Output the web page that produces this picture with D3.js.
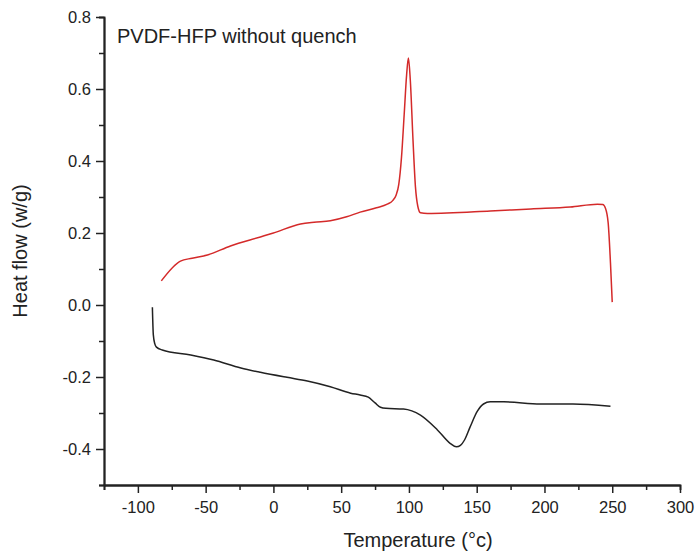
<!DOCTYPE html>
<html>
<head>
<meta charset="utf-8">
<script src="https://cdn.jsdelivr.net/npm/d3@7"></script>
<style>
	body { margin: 0; background: #fff; }
	svg text { font-family: 'Liberation Sans', Arial, sans-serif; fill: #222; }
</style>
</head>
<body>
<div id="chart"></div>
<script>
// cooling (red) and heating (black) DSC traces, [temperature, heat flow]
var redTrace = [
	[-82.7, 0.067], [-68.6, 0.122], [-60, 0.130], [-48.7, 0.139], [-31.7, 0.164],
	[-9.6, 0.189], [0, 0.2], [20, 0.225], [30, 0.230], [42, 0.234], [54, 0.245],
	[64, 0.258], [76, 0.270], [84, 0.280], [88, 0.290], [90.5, 0.305], [92.5, 0.335],
	[94.5, 0.41], [96.5, 0.53], [98.3, 0.64], [99.6, 0.686], [101, 0.625],
	[103, 0.458], [104.8, 0.328], [106.5, 0.275], [108.5, 0.256], [113.6, 0.254],
	[160, 0.261], [190, 0.267], [219, 0.272], [239, 0.28], [243, 0.279],
	[245, 0.269], [247, 0.228], [248.7, 0.117], [250, 0.008]
];
var blackTrace = [
	[-89.3, -0.006], [-88.6, -0.083], [-87.5, -0.108], [-86.3, -0.117], [-82, -0.125],
	[-61, -0.139], [-44, -0.153], [-24, -0.175], [-9.6, -0.187], [10, -0.201],
	[25, -0.211], [42, -0.227], [57, -0.245], [64, -0.25], [70, -0.256], [75, -0.272],
	[79, -0.284], [83, -0.287], [96, -0.289], [108.5, -0.306], [121, -0.347],
	[130.6, -0.385], [135, -0.394], [138, -0.39], [141, -0.375], [145, -0.34],
	[150.5, -0.295], [155, -0.275], [160, -0.269], [170, -0.269], [197, -0.275],
	[221, -0.275], [248.7, -0.281]
];
var xTicks = [-100, -50, 0, 50, 100, 150, 200, 250, 300];
var xMinorTicks = [-125, -75, -25, 25, 75, 125, 175, 225, 275];
var yTicks = [0.8, 0.6, 0.4, 0.2, 0.0, -0.2, -0.4];
var yMinorTicks = [0.7, 0.5, 0.3, 0.1, -0.1, -0.3, -0.5];
var xDomain = [-125, 300];
var yDomain = [-0.5, 0.8];
var xTitle = 'Temperature (\u00b0c)';
var yTitle = 'Heat flow (w/g)';
var note = 'PVDF-HFP without quench';

const MARGIN = { TOP: 17, LEFT: 104, BOTTOM: 69, RIGHT: 16 };
const W = 696, H = 554;
const WIDTH = W - MARGIN.LEFT - MARGIN.RIGHT;
const HEIGHT = H - MARGIN.TOP - MARGIN.BOTTOM;

var svg = d3.select('#chart').append('svg')
	.attr('width', W)
	.attr('height', H)
	.append('g')
	.attr('transform', 'translate(' + MARGIN.LEFT + ',' + MARGIN.TOP + ')');

var x = d3.scaleLinear().domain(xDomain).range([0, WIDTH]);
var y = d3.scaleLinear().domain(yDomain).range([HEIGHT, 0]);

// minor ticks first, then major axes on top
svg.append('g')
	.attr('transform', 'translate(0,' + HEIGHT + ')')
	.call(d3.axisBottom(x).tickValues(xMinorTicks).tickSize(5).tickFormat(''));
svg.append('g')
	.call(d3.axisLeft(y).tickValues(yMinorTicks).tickSize(5).tickFormat(''));

svg.append('g')
	.attr('class', 'x axis')
	.attr('transform', 'translate(0,' + HEIGHT + ')')
	.call(d3.axisBottom(x).tickValues(xTicks).tickSize(8).tickPadding(8).tickSizeOuter(0)
		.tickFormat(function (d) { return String(d).replace('\u2212', '-'); }));

svg.append('g')
	.attr('class', 'y axis')
	.call(d3.axisLeft(y).tickValues(yTicks).tickSize(8).tickPadding(5).tickSizeOuter(0)
		.tickFormat(function (d) { return d3.format('.1f')(d).replace('\u2212', '-'); }));

svg.selectAll('.domain').style('stroke', '#222').style('stroke-width', 1.8);
svg.selectAll('.tick line').style('stroke', '#222').style('stroke-width', 1.5);
svg.selectAll('.tick text').style('font-size', '16.5px').attr('fill', '#222');

var line = d3.line()
	.x(function (d) { return x(d[0]); })
	.y(function (d) { return y(d[1]); })
	.curve(d3.curveMonotoneX);

svg.append('path')
	.datum(redTrace)
	.attr('d', line)
	.attr('fill', 'none')
	.attr('stroke', '#d42a2a')
	.attr('stroke-width', 1.5);

svg.append('path')
	.datum(blackTrace)
	.attr('d', line)
	.attr('fill', 'none')
	.attr('stroke', '#222')
	.attr('stroke-width', 1.5);

svg.append('text')
	.attr('x', 13)
	.attr('y', 26)
	.style('font-size', '20px')
	.text(note);

svg.append('text')
	.attr('x', 314)
	.attr('y', HEIGHT + 62)
	.attr('text-anchor', 'middle')
	.style('font-size', '20px')
	.text(xTitle);

svg.append('text')
	.attr('transform', 'translate(' + (-77) + ',' + (HEIGHT / 2) + ') rotate(-90)')
	.attr('text-anchor', 'middle')
	.style('font-size', '20px')
	.text(yTitle);
</script>
</body>
</html>
